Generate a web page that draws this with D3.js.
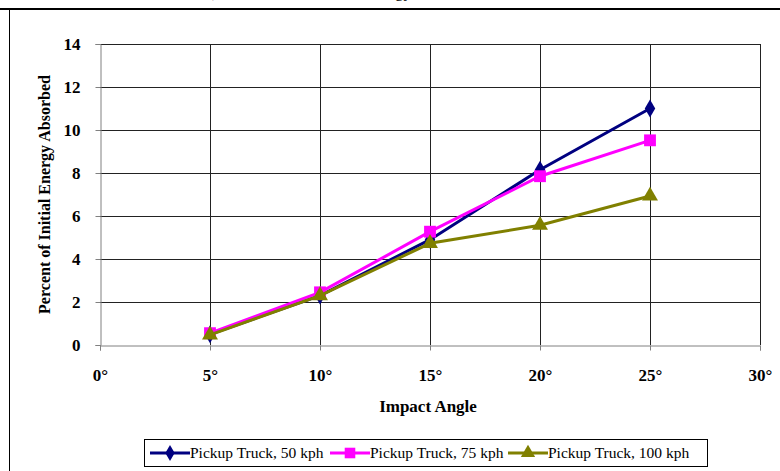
<!DOCTYPE html>
<html>
<head>
<meta charset="utf-8">
<script src="https://cdn.jsdelivr.net/npm/d3@7"></script>
<style>
  body { margin: 0; background: #fff; }
  svg { display: block; font-family: "Liberation Serif", "Times New Roman", serif; }
</style>
</head>
<body>
<svg id="chart" width="780" height="471"></svg>
<script>
// data
const angles = [5, 10, 15, 20, 25];
const xTicks = [0, 5, 10, 15, 20, 25, 30];
const yTicks = [0, 2, 4, 6, 8, 10, 12, 14];
const truck50 = [0.5, 2.3, 4.9, 8.15, 11.0];
const truck75 = [0.55, 2.45, 5.27, 7.85, 9.52];
const truck100 = [0.47, 2.3, 4.73, 5.57, 6.93];
const seriesNames = ["Pickup Truck, 50 kph", "Pickup Truck, 75 kph", "Pickup Truck, 100 kph"];

const series = [
  { name: seriesNames[0], values: truck50, color: "#000080", marker: d3.symbolDiamond, size: 95 },
  { name: seriesNames[1], values: truck75, color: "#ff00ff", marker: d3.symbolSquare, size: 140 },
  { name: seriesNames[2], values: truck100, color: "#808000", marker: d3.symbolTriangle, size: 110 }
];

const svg = d3.select("#chart");

// page frame (clipped caption above, rule and left border)
const caption = svg.append("g")
  .attr("font-size", 17)
  .attr("fill", "#000");
caption.append("text").attr("x", 212).attr("y", -3).text("),");
caption.append("text").attr("x", 412).attr("y", -3).attr("text-anchor", "end").text("Energy");
caption.append("text").attr("x", 505).attr("y", -3).text(",");

svg.append("line")
  .attr("x1", 0).attr("x2", 780)
  .attr("y1", 9).attr("y2", 9)
  .attr("stroke", "#000").attr("stroke-width", 2);
svg.append("line")
  .attr("x1", 9.5).attr("x2", 9.5)
  .attr("y1", 9).attr("y2", 471)
  .attr("stroke", "#000").attr("stroke-width", 1);

// scales
const x = d3.scaleLinear().domain([0, 30]).range([100, 760]);
const y = d3.scaleLinear().domain([0, 14]).range([345, 44]);

// gridlines
svg.append("g")
  .selectAll("line")
  .data(yTicks.filter(d => d > 0))
  .join("line")
  .attr("x1", x(0)).attr("x2", x(30))
  .attr("y1", d => Math.round(y(d)) + 0.5)
  .attr("y2", d => Math.round(y(d)) + 0.5)
  .attr("stroke", "#222").attr("stroke-width", 1);

svg.append("g")
  .selectAll("line")
  .data(xTicks.filter(d => d > 0))
  .join("line")
  .attr("x1", d => Math.round(x(d)) + 0.5)
  .attr("x2", d => Math.round(x(d)) + 0.5)
  .attr("y1", y(14)).attr("y2", y(0))
  .attr("stroke", "#222").attr("stroke-width", 1);

// axes
const yAxis = svg.append("g")
  .attr("transform", `translate(${x(0) + 0.5},0)`)
  .call(d3.axisLeft(y).tickValues(yTicks).tickSize(5).tickPadding(15));

const xAxis = svg.append("g")
  .attr("transform", `translate(0,${Math.round(y(0)) + 0.5})`)
  .call(d3.axisBottom(x).tickValues(xTicks).tickSize(5).tickPadding(18)
    .tickFormat(d => d + "\u00b0"));

[yAxis, xAxis].forEach(ax => {
  ax.select(".domain").attr("stroke", "#808080");
  ax.selectAll(".tick line").attr("stroke", "#808080");
  ax.selectAll("text")
    .attr("fill", "#000")
    .attr("font-family", "Liberation Serif, serif")
    .attr("font-size", 17)
    .attr("font-weight", "bold");
});
yAxis.selectAll("text").attr("dy", "0.35em");

// axis titles
svg.append("text")
  .attr("transform", `translate(50,${(y(0) + y(14)) / 2}) rotate(-90)`)
  .attr("text-anchor", "middle")
  .attr("font-size", 16)
  .attr("font-weight", "bold")
  .text("Percent of Initial Energy Absorbed");

svg.append("text")
  .attr("x", 428).attr("y", 412)
  .attr("text-anchor", "middle")
  .attr("font-size", 17)
  .attr("font-weight", "bold")
  .text("Impact Angle");

// lines and markers
const line = d3.line()
  .x((d, i) => x(angles[i]))
  .y(d => y(d));

series.forEach(s => {
  const g = svg.append("g");
  g.append("path")
    .datum(s.values)
    .attr("d", line)
    .attr("fill", "none")
    .attr("stroke", s.color)
    .attr("stroke-width", 3);
  g.selectAll("path.marker")
    .data(s.values)
    .join("path")
    .attr("class", "marker")
    .attr("d", d3.symbol().type(s.marker).size(s.size))
    .attr("transform", (d, i) => `translate(${x(angles[i])},${y(d)})`)
    .attr("fill", s.color);
});

// legend
const legend = svg.append("g");
legend.append("rect")
  .attr("x", 144.5).attr("y", 439.5)
  .attr("width", 563).attr("height", 27)
  .attr("fill", "#fff").attr("stroke", "#000").attr("stroke-width", 1);

const legendX = [150, 330, 508];
series.forEach((s, i) => {
  const g = legend.append("g").attr("transform", `translate(${legendX[i]},453)`);
  g.append("line")
    .attr("x1", 0).attr("x2", 40)
    .attr("stroke", s.color).attr("stroke-width", 3);
  g.append("path")
    .attr("d", d3.symbol().type(s.marker).size(s.size * 0.8))
    .attr("transform", "translate(20,0)")
    .attr("fill", s.color);
  g.append("text")
    .attr("x", 40).attr("y", 5)
    .attr("font-size", 15.5)
    .text(s.name);
});
</script>
</body>
</html>
